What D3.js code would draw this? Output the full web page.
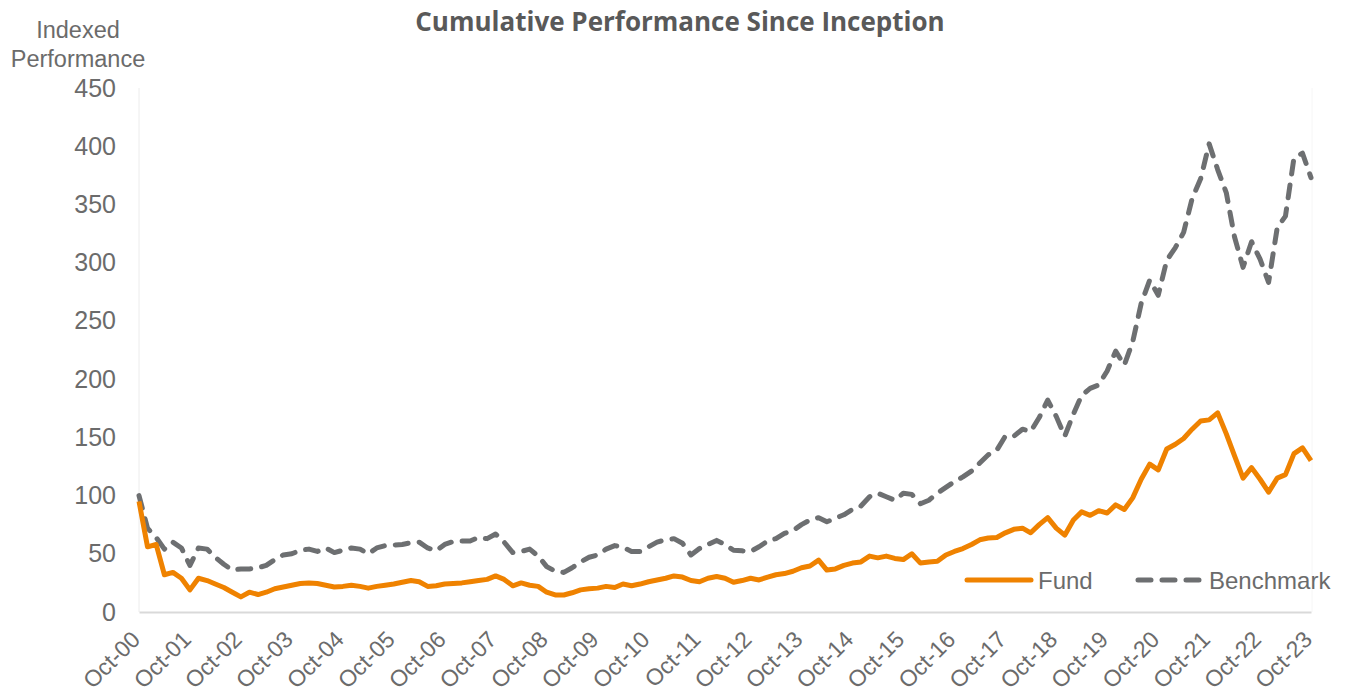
<!DOCTYPE html>
<html>
<head>
<meta charset="utf-8">
<script src="https://cdn.jsdelivr.net/npm/d3@7"></script>
<style>
  body { margin: 0; background: #fff; }
  text { font-family: "Liberation Sans", Arial, sans-serif; }
</style>
</head>
<body>
<div id="chart"></div>
<script>
// values, one every two months from Oct-2000
var fund = [95,56,58,32,34,29,19,29,27,24,21,17,13,17,15,17,20,21.5,23,24.5,25,24.5,23,21.5,22,23,22,20.5,22,23,24,25.5,
  27,26,22,22.5,24,24.5,25,26,27,28,31,28,22.5,25,23,22,17,14.6,14.6,16.5,19,20,20.5,22,21,24,22.5,24,26,27.5,29,31,
  30,27,26,29,30.5,29,25.5,27,29,27.5,30,32,33,35,38,39.5,44.5,36,37,40,42,43,48,46.5,48,46,45,50,42,43,43.5,49,52,54.5,
  58,62,63.5,64,68,71,72,68,75,81,72,66,79,86,83,87,85,92,88,98,114,127,122,140,144,149,157,164,165,171,153,134,115,
  124,114,103,115,118,136,141,130];
var benchmark = [100,72,64,54,60,55,40,55,54,47,41,36,37,37,38,40,45,49,50,53,54,52,55,51,53,55,54,50,55,57,57.5,58,
  59.5,60,55,52.5,58,60.5,61,61,64,63,67,60,51,52,54,48,39,35,34,38,43,47,49,54,57,55.5,52,52,56,60,62,63,
  59,49,54.5,58,61.5,58,53,52.5,52,56,61,63,67.5,70,75,79,81,77.5,80.5,83.5,88,91,99,102,99,96,102,101,93,96,102,107,112,116,
  121,128,135,139,151,151,157,155,167,182,168,151,170,186,192,195,207,224,212,232,265,285,272,302,313,326,355,372,402,380,360,322,296,
  318,303,283,330,340,390,394,373];
var startDate = new Date(2000, 9, 1);
var dates = fund.map(function(d, i){ return d3.timeMonth.offset(startDate, i * 2); });
var yTicks = [0,50,100,150,200,250,300,350,400,450];
var xTicks = d3.range(0, 24).map(function(y){ return new Date(2000 + y, 9, 1); });
var seriesNames = ['Fund','Benchmark'];

var svgWidth = 1346, svgHeight = 695;
var margin = {left:139, right:35, top:88, bottom:83};
var width = svgWidth - margin.left - margin.right;
var height = svgHeight - margin.top - margin.bottom;

var orange = '#ef8200', grey = '#6d6f71', textCol = '#6b6b6b';
var dashes = '13,11';

var svg = d3.select('#chart').append('svg')
  .attr('width', svgWidth)
  .attr('height', svgHeight);

var g = svg.append('g')
  .attr('transform', 'translate(' + margin.left + ',' + margin.top + ')');

var xScale = d3.scaleTime()
  .domain([startDate, dates[dates.length - 1]])
  .range([0, width]);

var yScale = d3.scaleLinear()
  .domain([0, 450])
  .range([height, 0]);

// title + y label
svg.append('text')
  .attr('x', 680).attr('y', 31)
  .attr('text-anchor', 'middle')
  .style('font-family', '"Open Sans", sans-serif')
  .style('font-weight', 'bold')
  .style('font-size', '26px')
  .attr('fill', '#595959')
  .text('Cumulative Performance Since Inception');

svg.append('text')
  .attr('x', 78).attr('y', 38)
  .attr('text-anchor', 'middle')
  .style('font-size', '23.5px')
  .attr('fill', textCol)
  .text('Indexed');
svg.append('text')
  .attr('x', 78).attr('y', 67)
  .attr('text-anchor', 'middle')
  .style('font-size', '23.5px')
  .attr('fill', textCol)
  .text('Performance');

// faint plot borders
g.append('line').attr('x1', 0).attr('x2', 0).attr('y1', 0).attr('y2', height)
  .attr('stroke', '#ececec').attr('stroke-width', 1);
g.append('line').attr('x1', width + 1).attr('x2', width + 1).attr('y1', 0).attr('y2', height)
  .attr('stroke', '#f6f6f6').attr('stroke-width', 1);

// y axis (labels only)
var yAxis = d3.axisLeft(yScale)
  .tickValues(yTicks)
  .tickSize(0)
  .tickPadding(23);

g.append('g')
  .call(yAxis)
  .call(function(a){ a.select('.domain').remove(); })
  .selectAll('text')
  .style('font-size', '25px')
  .attr('fill', textCol);

// x axis
var xAxis = d3.axisBottom(xScale)
  .tickValues(xTicks)
  .tickSize(0)
  .tickFormat(d3.timeFormat('Oct-%y'));

var xg = g.append('g')
  .attr('transform', 'translate(0,' + height + ')')
  .call(xAxis);
xg.select('.domain').attr('stroke', '#d9d9d9').attr('stroke-width', 2);
xg.selectAll('text')
  .attr('y', 0).attr('x', 0).attr('dy', 0)
  .attr('text-anchor', 'end')
  .attr('transform', 'translate(2,29) rotate(-45)')
  .style('font-size', '23px')
  .attr('fill', textCol);

// lines
var line = d3.line()
  .x(function(d, i){ return xScale(dates[i]); })
  .y(function(d){ return yScale(d); });

g.append('path')
  .datum(benchmark)
  .attr('d', line)
  .attr('fill', 'none')
  .attr('stroke', grey)
  .attr('stroke-width', 5)
  .attr('stroke-linecap', 'round')
  .attr('stroke-linejoin', 'round')
  .attr('stroke-dasharray', dashes);

g.append('path')
  .datum(fund)
  .attr('d', line)
  .attr('fill', 'none')
  .attr('stroke', orange)
  .attr('stroke-width', 5)
  .attr('stroke-linejoin', 'round');

// legend
var legend = svg.append('g').attr('transform', 'translate(965,580)');
var legendItems = [
  {name: seriesNames[0], x: 0, color: orange, dash: null},
  {name: seriesNames[1], x: 171, color: grey, dash: dashes}
];
legendItems.forEach(function(it){
  legend.append('line')
    .attr('x1', it.x + 2).attr('x2', it.x + 66)
    .attr('y1', 0).attr('y2', 0)
    .attr('stroke', it.color)
    .attr('stroke-width', 5)
    .attr('stroke-linecap', 'round')
    .attr('stroke-dasharray', it.dash);
  legend.append('text')
    .attr('x', it.x + 73).attr('y', 9)
    .style('font-size', '24px')
    .attr('fill', textCol)
    .text(it.name);
});
</script>
</body>
</html>
